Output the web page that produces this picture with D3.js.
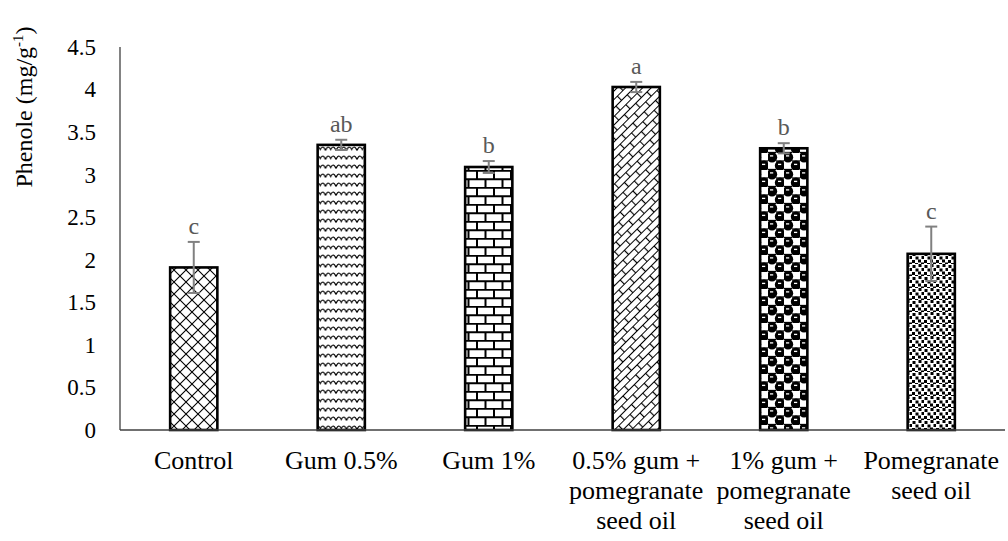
<!DOCTYPE html>
<html><head><meta charset="utf-8">
<script src="https://cdn.jsdelivr.net/npm/d3@7"></script>
<style>
html,body{margin:0;padding:0;background:#fff;}
svg text, svg tspan{font-family:"Liberation Serif","Times New Roman",serif !important;}
</style></head>
<body><svg id="chart" width="1008" height="541" style="font-family:'Liberation Serif',serif"></svg>
<script>
// ---- data ----
const categories = ["Control","Gum 0.5%","Gum 1%","0.5% gum + pomegranate seed oil","1% gum + pomegranate seed oil","Pomegranate seed oil"];
const categoryLines = [["Control"],["Gum 0.5%"],["Gum 1%"],["0.5% gum +","pomegranate","seed oil"],["1% gum +","pomegranate","seed oil"],["Pomegranate","seed oil"]];
const values = [1.91, 3.35, 3.09, 4.03, 3.31, 2.07];
const errors = [0.30, 0.06, 0.07, 0.06, 0.06, 0.32];
const letters = ["c","ab","b","a","b","c"];
const yTicks = [0,0.5,1,1.5,2,2.5,3,3.5,4,4.5];
const yTickLabels = ["0","0.5","1","1.5","2","2.5","3","3.5","4","4.5"];
const patternIds = ["pDiamond","pWave","pBrick","pDiagBrick","pSphere","pConfetti"];

// ---- layout ----
const FONT = "'Liberation Serif', 'Times New Roman', serif";
const svg = d3.select("#chart");
const L = 120, R = 1005, T = 47, B = 430;
const x = d3.scaleBand().domain(categories).range([L, R]).paddingInner(0.68).paddingOuter(0.34);
const y = d3.scaleLinear().domain([0, 4.5]).range([B, T]);

// ---- patterns ----
const defs = svg.append("defs");
function pat(id, w, h, transform) {
  const p = defs.append("pattern").attr("id", id).attr("patternUnits", "userSpaceOnUse")
    .attr("width", w).attr("height", h);
  if (transform) p.attr("patternTransform", transform);
  p.append("rect").attr("width", w).attr("height", h).attr("fill", "#fff");
  return p;
}
// diamond lattice
{
  const p = pat("pDiamond", 12, 12);
  p.append("path").attr("d", "M0,0 L12,12 M12,0 L0,12 M-1,11 L1,13 M11,-1 L13,1")
    .attr("stroke", "#000").attr("stroke-width", 1.1).attr("fill", "none");
}
// waves
{
  const p = pat("pWave", 10.5, 9);
  p.append("path").attr("d", "M0,6.5 Q2.6,0 5.25,5.5 Q7.9,0 10.5,6.5")
    .attr("stroke", "#000").attr("stroke-width", 1.2).attr("fill", "none");
}
// brick
{
  const p = pat("pBrick", 17, 17);
  p.append("path").attr("d", "M0,0.8 H17 M0,9.3 H17 M1,0 V9.3 M9.5,9.3 V17")
    .attr("stroke", "#000").attr("stroke-width", 2).attr("fill", "none");
}
// diagonal brick
{
  const p = pat("pDiagBrick", 16, 12, "rotate(-45)");
  p.append("path").attr("d", "M0,0.5 H16 M0,6.5 H16 M0.5,0.5 V6.5 M8.5,6.5 V12.5")
    .attr("stroke", "#000").attr("stroke-width", 1.2).attr("fill", "none");
}
// spheres
{
  const p = pat("pSphere", 16, 17);
  [[4,4.25],[12,12.75]].forEach(([cx,cy]) => {
    p.append("circle").attr("cx", cx).attr("cy", cy).attr("r", 5.2).attr("fill", "#000");
    p.append("rect").attr("x", cx-2).attr("y", cy-2).attr("width", 3.2).attr("height", 1.3).attr("fill", "#fff");
  });
  [[12,4.25],[4,12.75]].forEach(([cx,cy]) => {
    p.append("path").attr("d", `M${cx-4},${cy+3.8} H${cx+4}`).attr("stroke", "#000").attr("stroke-width", 1.4);
  });
}
// confetti
{
  const p = pat("pConfetti", 12, 12);
  [[0.5,1],[6.5,0],[3.5,4.5],[9.5,4],[0,8],[6,7.5],[9,10.5],[3,11]].forEach(([a,b]) => {
    p.append("rect").attr("x", a).attr("y", b).attr("width", 3).attr("height", 3).attr("fill", "#000");
  });
}

// ---- axes ----
const yAxis = d3.axisLeft(y).tickValues(yTicks).tickSize(0).tickPadding(24)
  .tickFormat((d, i) => yTickLabels[i]);
const gy = svg.append("g").attr("transform", `translate(${L},0)`).call(yAxis)
  .attr("font-family", FONT).attr("font-size", 23);
gy.select(".domain").attr("stroke", "#404040").attr("stroke-width", 1.3).attr("d", `M0,${T} V${B}`);
gy.selectAll(".tick text").attr("fill", "#000").style("font-family", FONT).style("font-size", "23px");

// bars
svg.append("g").selectAll("rect").data(categories).join("rect")
  .attr("x", d => x(d))
  .attr("y", (d, i) => y(values[i]))
  .attr("width", x.bandwidth())
  .attr("height", (d, i) => y(0) - y(values[i]))
  .attr("fill", (d, i) => `url(#${patternIds[i]})`)
  .attr("stroke", "#000").attr("stroke-width", 2.6);

// x axis line
const xAxis = d3.axisBottom(x).tickSize(0).tickFormat("");
const gx = svg.append("g").attr("transform", `translate(0,${B})`).call(xAxis);
gx.select(".domain").attr("stroke", "#404040").attr("stroke-width", 1.6).attr("d", `M${L},0 H${R}`);

// x labels
const xl = svg.append("g").selectAll("text").data(categories).join("text")
  .attr("x", d => x(d) + x.bandwidth() / 2)
  .attr("y", 469)
  .attr("text-anchor", "middle")
  .style("font-family", FONT).style("font-size", "26px").attr("fill", "#000");
xl.each(function(d, i) {
  const t = d3.select(this);
  categoryLines[i].forEach((line, k) => {
    t.append("tspan").attr("x", x(d) + x.bandwidth() / 2).attr("dy", k === 0 ? 0 : 30).text(line);
  });
});

// error bars
const eb = svg.append("g").attr("stroke", "#808080").attr("stroke-width", 2).attr("fill", "none");
categories.forEach((c, i) => {
  const cx = x(c) + x.bandwidth() / 2;
  const y1 = y(values[i] + errors[i]), y0 = y(values[i] - errors[i]);
  eb.append("line").attr("x1", cx).attr("x2", cx).attr("y1", y1).attr("y2", y0);
  eb.append("line").attr("x1", cx - 6).attr("x2", cx + 6).attr("y1", y1).attr("y2", y1);
  eb.append("line").attr("x1", cx - 6).attr("x2", cx + 6).attr("y1", y0).attr("y2", y0);
});

// significance letters
svg.append("g").selectAll("text").data(categories).join("text")
  .attr("x", d => x(d) + x.bandwidth() / 2)
  .attr("y", (d, i) => y(values[i] + errors[i]) - 8)
  .attr("text-anchor", "middle")
  .style("font-family", FONT).style("font-size", "24px").attr("fill", "#595959")
  .text((d, i) => letters[i]);

// y title
const yt = svg.append("text").attr("transform", "translate(32,107) rotate(-90)")
  .attr("text-anchor", "middle").style("font-family", FONT).style("font-size", "24px").attr("fill", "#000");
yt.append("tspan").text("Phenole (mg/g");
yt.append("tspan").style("font-size", "15px").attr("dy", -9).text("-1");
yt.append("tspan").attr("dy", 9).text(")");
</script></body></html>
